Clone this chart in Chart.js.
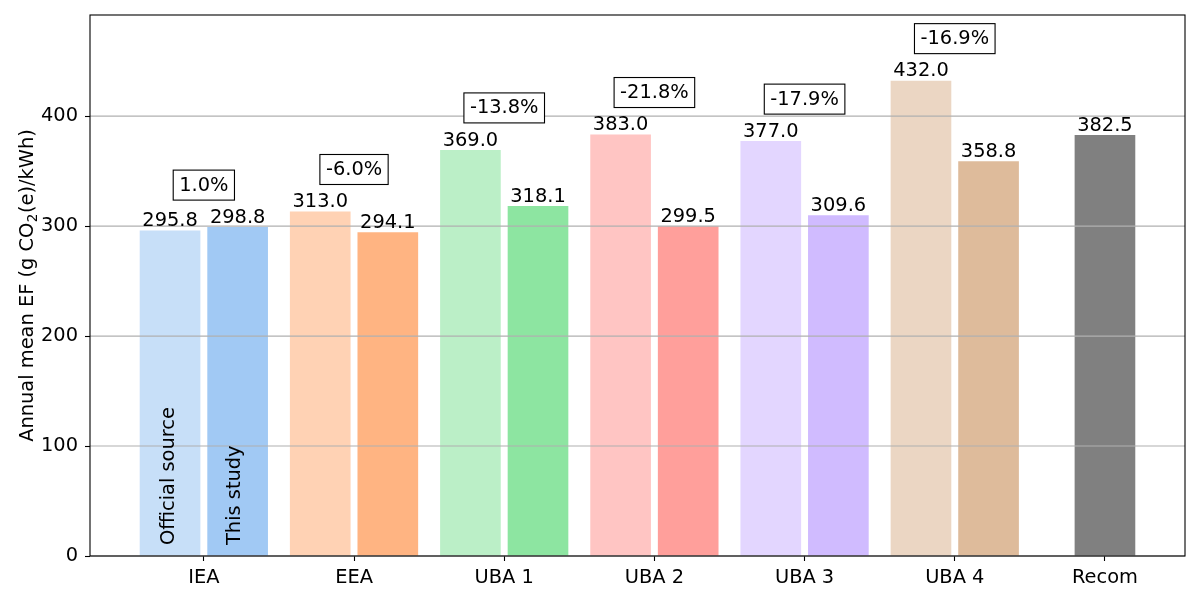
<!DOCTYPE html>
<html>
<head>
<meta charset="utf-8">
<script src="https://cdn.jsdelivr.net/npm/chart.js@4"></script>
<style>
  html, body { margin: 0; padding: 0; background: #fff; }
  #wrap { width: 1200px; height: 600px; }
</style>
</head>
<body>
<div id="wrap"><canvas id="c" width="1200" height="600"></canvas></div>
<script>
const categories = ['IEA', 'EEA', 'UBA 1', 'UBA 2', 'UBA 3', 'UBA 4', 'Recom'];
const officialValues = [295.8, 313.0, 369.0, 383.0, 377.0, 432.0];
const studyValues = [298.8, 294.1, 318.1, 299.5, 309.6, 358.8];
const recomValue = 382.5;
const pctLabels = ['1.0%', '-6.0%', '-13.8%', '-21.8%', '-17.9%', '-16.9%'];
const yTicks = [0, 100, 200, 300, 400];
const baseColors = ['#a1c9f4', '#ffb482', '#8de5a1', '#ff9f9b', '#d0bbff', '#debb9b'];
const recomColor = '#808080';
const yTitleParts = ['Annual mean EF (g CO', '2', '(e)/kWh)'];

const FONT = 'DejaVu Sans';
const FS = 19.4;
Chart.defaults.font.family = FONT;
Chart.defaults.font.size = FS;
Chart.defaults.color = '#000';

function withAlpha(hex, a) {
  const r = parseInt(hex.slice(1, 3), 16), g = parseInt(hex.slice(3, 5), 16), b = parseInt(hex.slice(5, 7), 16);
  return `rgba(${r},${g},${b},${a})`;
}

const OFFSET = 0.225;

const overlay = {
  id: 'overlay',
  afterDatasetsDraw(chart) {
    const ctx = chart.ctx;
    const xs = chart.scales.x, ys = chart.scales.y;
    const a = chart.chartArea;
    ctx.save();
    // grid lines (drawn above bars, like matplotlib default)
    ctx.strokeStyle = '#b0b0b0';
    ctx.lineWidth = 1.1;
    yTicks.forEach(t => {
      const y = ys.getPixelForValue(t);
      ctx.beginPath();
      ctx.moveTo(a.left, y);
      ctx.lineTo(a.right, y);
      ctx.stroke();
    });
    // spines
    ctx.strokeStyle = '#000';
    ctx.lineWidth = 1.1;
    ctx.strokeRect(a.left, a.top, a.right - a.left, a.bottom - a.top);

    // value labels
    const mainFont = `${FS}px "${FONT}"`;
    const subFont = `${FS * 0.7}px "${FONT}"`;
    ctx.font = mainFont;
    ctx.fillStyle = '#000';
    ctx.textAlign = 'center';
    ctx.textBaseline = 'alphabetic';
    chart.data.datasets.forEach((ds, di) => {
      const meta = chart.getDatasetMeta(di);
      meta.data.forEach((el, i) => {
        ctx.fillText(ds.data[i].y.toFixed(1), el.x, el.y - 4.6);
      });
    });

    // percentage boxes
    pctLabels.forEach((lab, i) => {
      const cx = xs.getPixelForValue(i);
      const cy = ys.getPixelForValue(Math.max(officialValues[i], studyValues[i]) + 38.5);
      const w = ctx.measureText(lab).width;
      const bw = w + 12, bh = 30;
      ctx.fillStyle = '#fff';
      ctx.fillRect(cx - bw / 2, cy - bh / 2, bw, bh);
      ctx.strokeStyle = '#000';
      ctx.lineWidth = 1.1;
      ctx.strokeRect(cx - bw / 2, cy - bh / 2, bw, bh);
      ctx.fillStyle = '#000';
      ctx.fillText(lab, cx, cy + 5.5);
    });

    // rotated series labels inside first pair
    ctx.textAlign = 'left';
    const y0 = ys.getPixelForValue(10);
    [['Official source', -OFFSET, 4], ['This study', OFFSET, 2.5]].forEach(([txt, off, dx]) => {
      const x = xs.getPixelForValue(off) + dx;
      ctx.save();
      ctx.translate(x, y0);
      ctx.rotate(-Math.PI / 2);
      ctx.fillText(txt, 0, 0);
      ctx.restore();
    });

    // y axis title with subscript
    ctx.save();
    ctx.translate(32.5, (a.top + a.bottom) / 2);
    ctx.rotate(-Math.PI / 2);
    ctx.textAlign = 'left';
    ctx.font = mainFont;
    const w1 = ctx.measureText(yTitleParts[0]).width;
    const w3 = ctx.measureText(yTitleParts[2]).width;
    ctx.font = subFont;
    const w2 = ctx.measureText(yTitleParts[1]).width + 1;
    let x = -(w1 + w2 + w3) / 2;
    ctx.font = mainFont;
    ctx.fillText(yTitleParts[0], x, 0);
    x += w1;
    ctx.font = subFont;
    ctx.fillText(yTitleParts[1], x + 0.5, 4);
    x += w2;
    ctx.font = mainFont;
    ctx.fillText(yTitleParts[2], x, 0);
    ctx.restore();

    ctx.restore();
  }
};

new Chart(document.getElementById('c'), {
  type: 'bar',
  data: {
    datasets: [
      {
        label: 'Official source',
        data: officialValues.map((v, i) => ({ x: i - OFFSET, y: v })),
        backgroundColor: baseColors.map(c => withAlpha(c, 0.6))
      },
      {
        label: 'This study',
        data: studyValues.map((v, i) => ({ x: i + OFFSET, y: v })),
        backgroundColor: baseColors
      },
      {
        label: 'Recom',
        data: [{ x: categories.length - 1, y: recomValue }],
        backgroundColor: recomColor
      }
    ]
  },
  options: {
    responsive: false,
    animation: false,
    devicePixelRatio: 1,
    layout: { padding: { top: 15, right: 15, left: 0, bottom: 0 } },
    datasets: { bar: { grouped: false, barThickness: 60, borderWidth: 0 } },
    plugins: { legend: { display: false }, tooltip: { enabled: false } },
    scales: {
      x: {
        type: 'linear',
        offset: false,
        min: -0.758,
        max: 6.533,
        afterBuildTicks: s => { s.ticks = categories.map((c, i) => ({ value: i })); },
        afterFit: s => { s.height = 44; s.paddingLeft = 0; s.paddingRight = 0; },
        ticks: {
          autoSkip: false,
          maxRotation: 0,
          minRotation: 0,
          padding: 5,
          color: '#000',
          font: { size: FS },
          callback: v => categories[v]
        },
        grid: { offset: false, drawOnChartArea: false, drawTicks: true, tickLength: 5, tickColor: '#000', tickWidth: 1.1, color: 'rgba(0,0,0,0)' },
        border: { display: false }
      },
      y: {
        type: 'linear',
        min: 0,
        max: 492,
        afterBuildTicks: s => { s.ticks = yTicks.map(v => ({ value: v })); },
        afterFit: s => { s.width = 90; s.paddingTop = 0; s.paddingBottom = 0; },
        ticks: { padding: 7, color: '#000', font: { size: FS } },
        grid: { drawOnChartArea: false, drawTicks: true, tickLength: 5, tickColor: '#000', tickWidth: 1.1, color: 'rgba(0,0,0,0)' },
        border: { display: false }
      }
    }
  },
  plugins: [overlay]
});
</script>
</body>
</html>
